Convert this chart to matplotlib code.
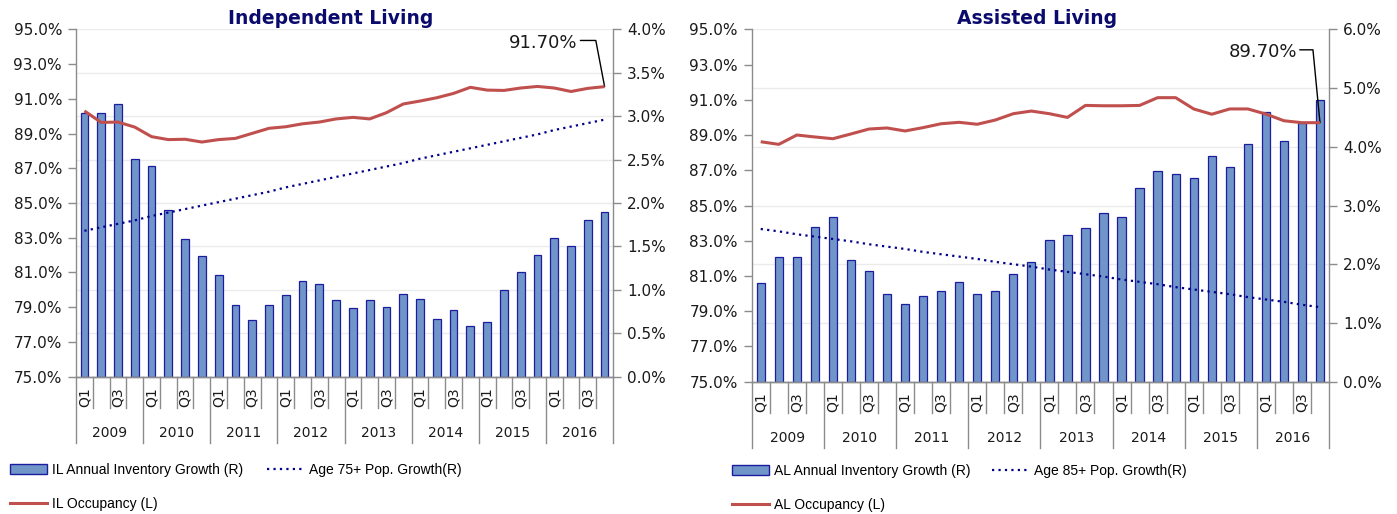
import matplotlib
matplotlib.use('Agg')
import matplotlib.pyplot as plt
from matplotlib.transforms import blended_transform_factory
from matplotlib.patches import Patch
from matplotlib.lines import Line2D
from matplotlib.ticker import FuncFormatter

plt.rcParams['font.family'] = ['DejaVu Sans']

years = ['2009', '2010', '2011', '2012', '2013', '2014', '2015', '2016']
quarter_labels = ['Q1', '', 'Q3', '']

il_inventory = [3.04, 3.04, 3.14, 2.51, 2.43, 1.92, 1.59, 1.39, 1.17, 0.83, 0.65, 0.83,
                0.94, 1.10, 1.07, 0.88, 0.79, 0.88, 0.80, 0.95, 0.89, 0.66, 0.77, 0.58,
                0.63, 1.00, 1.20, 1.40, 1.60, 1.50, 1.80, 1.90]
il_occupancy = [90.30, 89.64, 89.66, 89.37, 88.82, 88.65, 88.67, 88.51, 88.65, 88.72, 89.01, 89.30,
                89.39, 89.56, 89.66, 89.84, 89.93, 89.84, 90.20, 90.70, 90.87, 91.06, 91.31, 91.66,
                91.50, 91.48, 91.62, 91.71, 91.62, 91.42, 91.60, 91.70]
age75_growth = [1.68, 1.72, 1.76, 1.80, 1.85, 1.89, 1.93, 1.97, 2.01, 2.05, 2.09, 2.13,
                2.18, 2.22, 2.26, 2.30, 2.34, 2.38, 2.42, 2.46, 2.51, 2.55, 2.59, 2.63,
                2.67, 2.71, 2.75, 2.79, 2.84, 2.88, 2.92, 2.96]

al_inventory = [1.68, 2.13, 2.13, 2.64, 2.80, 2.08, 1.88, 1.49, 1.32, 1.46, 1.54, 1.69,
                1.49, 1.54, 1.83, 2.03, 2.41, 2.49, 2.61, 2.88, 2.80, 3.30, 3.58, 3.53,
                3.47, 3.84, 3.66, 4.05, 4.60, 4.10, 4.41, 4.80]
al_occupancy = [88.62, 88.47, 89.00, 88.89, 88.79, 89.06, 89.34, 89.40, 89.23, 89.42, 89.64, 89.72,
                89.61, 89.85, 90.21, 90.36, 90.21, 90.00, 90.68, 90.66, 90.66, 90.68, 91.12, 91.12,
                90.48, 90.18, 90.48, 90.48, 90.19, 89.81, 89.70, 89.70]
age85_growth = [2.60, 2.56, 2.51, 2.47, 2.43, 2.39, 2.34, 2.30, 2.26, 2.21, 2.17, 2.13,
                2.09, 2.04, 2.00, 1.96, 1.91, 1.87, 1.83, 1.79, 1.74, 1.70, 1.66, 1.61,
                1.57, 1.53, 1.49, 1.44, 1.40, 1.36, 1.31, 1.27]

left_ticks = [75, 77, 79, 81, 83, 85, 87, 89, 91, 93, 95]
il_right_ticks = [0.0, 0.5, 1.0, 1.5, 2.0, 2.5, 3.0, 3.5, 4.0]
al_right_ticks = [0, 1, 2, 3, 4, 5, 6]

W, H = 1397, 514
BAR_FACE = '#7096C9'
BAR_EDGE = '#1C1CA0'
RED = '#C0504D'
NAVY = '#00008B'
GRID = '#EBEBEB'
SPINE = '#8C8C8C'
TXT = '#1A1A1A'
TITLE_C = '#0B0B6E'

fig = plt.figure(figsize=(W / 100, H / 100), dpi=100)

pct = FuncFormatter(lambda v, p: f'{v:.1f}%')
legend_family = ['Liberation Sans', 'DejaVu Sans']


def draw_chart(px_box, title, title_px, inv, occ, pop, rticks, ann_text, ann_off, ann_angle,
               names, legend_px):
    x0, y0, x1, y1 = px_box
    ax = fig.add_axes([x0 / W, 1 - y1 / H, (x1 - x0) / W, (y1 - y0) / H])
    ax2 = ax.twinx()
    ax.set_zorder(ax2.get_zorder() + 1)
    ax.patch.set_visible(False)

    xs = list(range(len(inv)))
    ax2.bar(xs, inv, width=0.46, color=BAR_FACE, edgecolor=BAR_EDGE, linewidth=0.9, zorder=2)
    ax2.plot(xs, pop, color=NAVY, lw=1.6, linestyle=(0, (1, 1.9)), zorder=3)
    ax.plot(xs, occ, color=RED, lw=2.2, solid_capstyle='butt', zorder=4)

    ax.set_xlim(-0.5, len(inv) - 0.5)
    ax.set_ylim(left_ticks[0], left_ticks[-1])
    ax2.set_ylim(rticks[0], rticks[-1])
    ax.set_yticks(left_ticks)
    ax2.set_yticks(rticks)
    ax.yaxis.set_major_formatter(pct)
    ax2.yaxis.set_major_formatter(pct)
    ax2.set_axisbelow(True)
    ax2.yaxis.grid(True, color=GRID, lw=1.0)
    ax.set_xticks([])
    ax2.set_xticks([])

    for a in (ax, ax2):
        a.spines['top'].set_visible(False)
        for s in ('left', 'right', 'bottom'):
            a.spines[s].set_color(SPINE)
            a.spines[s].set_linewidth(1.0)
        a.tick_params(axis='y', colors=SPINE, labelcolor=TXT, labelsize=11, length=6, width=1.0, pad=4)
    ax.spines['right'].set_visible(False)
    ax2.spines['left'].set_visible(False)

    # category axis
    ax_h = y1 - y0
    trans = blended_transform_factory(ax.transData, ax.transAxes)
    n = len(inv)
    for k in range(n + 1):
        long = (k % 4 == 0)
        depth = (66 if long else 31) / ax_h
        ax.plot([k - 0.5, k - 0.5], [0, -depth], transform=trans, color=SPINE, lw=1.0,
                clip_on=False)
    for i in range(n):
        lab = quarter_labels[i % 4]
        if lab:
            ax.annotate(lab, xy=(i, 0), xycoords=trans, xytext=(0, -11), textcoords='offset pixels',
                        rotation=90, ha='center', va='top', fontsize=10, color=TXT)
    for yi, yr in enumerate(years):
        ax.annotate(yr, xy=(yi * 4 + 1.5, 0), xycoords=trans, xytext=(0, -56),
                    textcoords='offset pixels', ha='center', va='center', fontsize=10, color=TXT)

    # annotation of last occupancy value
    ax.annotate(ann_text, xy=(xs[-1], occ[-1]), xycoords='data', xytext=ann_off,
                textcoords='offset pixels', ha='right', va='center', fontsize=13, color=TXT,
                arrowprops=dict(arrowstyle='-', color='black', lw=1.0, shrinkA=0, shrinkB=0,
                                relpos=(1.0, 0.62),
                                connectionstyle=f'angle,angleA=0,angleB={ann_angle},rad=0'))

    fig.text(title_px[0] / W, 1 - title_px[1] / H, title, ha='center', va='center',
             fontsize=13.5, fontweight='bold', color=TITLE_C)

    # legends
    handles = [Patch(facecolor=BAR_FACE, edgecolor=BAR_EDGE, linewidth=1.0),
               Line2D([], [], color=NAVY, lw=1.6, linestyle=(0, (1, 1.9))),
               Line2D([], [], color=RED, lw=2.2)]
    for h, name, (lx, ly) in zip(handles, names, legend_px):
        fig.legend([h], [name], loc='center left', bbox_to_anchor=(lx / W, 1 - ly / H),
                   bbox_transform=fig.transFigure, frameon=False, borderpad=0, borderaxespad=0,
                   handlelength=2.65, handletextpad=0.38, handleheight=0.75,
                   prop={'family': legend_family, 'size': 10})
    return ax, ax2


draw_chart((76, 29.3, 613, 376.7), 'Independent Living', (331, 19),
           il_inventory, il_occupancy, age75_growth, il_right_ticks,
           '91.70%', (-27, 44), 100.8,
           ['IL Annual Inventory Growth (R)', 'Age 75+ Pop. Growth(R)', 'IL Occupancy (L)'],
           [(10, 470), (267, 470), (10, 504)])

draw_chart((751.7, 29.3, 1329, 381.7), 'Assisted Living', (1037.5, 19),
           al_inventory, al_occupancy, age85_growth, al_right_ticks,
           '89.70%', (-23, 70.7), 95.5,
           ['AL Annual Inventory Growth (R)', 'Age 85+ Pop. Growth(R)', 'AL Occupancy (L)'],
           [(732, 471), (992, 471), (732, 505)])

fig.savefig('out.png', dpi=100)
